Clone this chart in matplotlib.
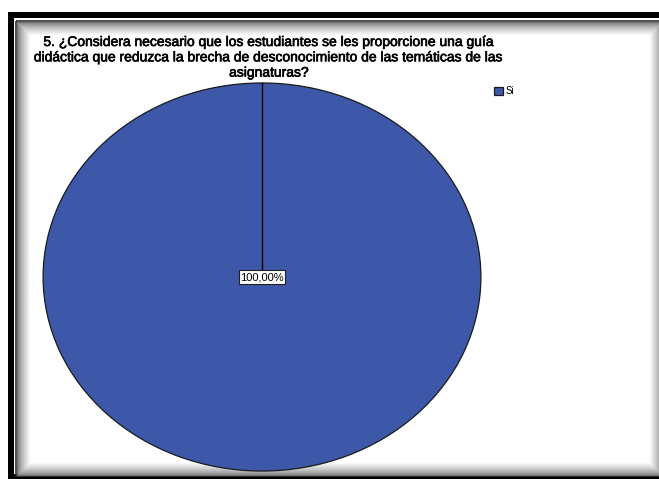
import matplotlib
matplotlib.use('Agg')
import matplotlib.pyplot as plt
import matplotlib.patheffects as pe
import numpy as np
from matplotlib.patches import Rectangle

# datos
categorias = ['Si']
porcentajes = [100.0]
etiquetas = ['100,00%']
titulo = ('5. ¿Considera necesario que los estudiantes se les proporcione una guía\n'
          'didáctica que reduzca la brecha de desconocimiento de las temáticas de las\n'
          'asignaturas?')
color_si = '#3D58A9'
angulo_inicio = 90

W, H = 659, 479
fig = plt.figure(figsize=(W / 100, H / 100), dpi=100)
fig.patch.set_facecolor('white')

# marco con sombra (coordenadas en pixeles)
bg = fig.add_axes([0, 0, 1, 1])
bg.set_xlim(0, W)
bg.set_ylim(H, 0)
bg.axis('off')
bg.add_patch(Rectangle((8, 12), W + 20, 467, facecolor='black', edgecolor='none'))
bg.add_patch(Rectangle((14, 18), W + 20, 456, facecolor='white', edgecolor='none'))
bg.add_patch(Rectangle((16, 20.5), W + 20, 455.5, facecolor='none', edgecolor='#303030', lw=1.2))
# sombra interior en degradado
for i in range(14):
    g = 0.45 + 0.55 * (i / 13) ** 0.7
    x0, y0 = 17 + i, 22 + i
    x1, y1 = W + 3 - i, 475 - i
    bg.add_patch(Rectangle((x0, y0), x1 - x0, y1 - y0, facecolor='none', edgecolor=(g, g, g), lw=0.8))
bg.add_patch(Rectangle((31, 36), (W + 3 - 14) - 31, (475 - 14) - 36, facecolor='white', edgecolor='none'))

t = fig.text(269 / W, 1 - 35 / H, titulo, ha='center', va='top', fontsize=10,
             family='Liberation Sans', linespacing=1.12, color='black')
t.set_path_effects([pe.Stroke(linewidth=0.45, foreground='black'), pe.Normal()])

# pastel (elipse)
ax = fig.add_axes([42 / W, (H - 472) / H, 440 / W, 390 / H])
wedges, _ = ax.pie(porcentajes, colors=[color_si], startangle=angulo_inicio, counterclock=False,
                   radius=1, wedgeprops=dict(edgecolor='#1a1a1a', linewidth=0.9))
# borde del sector (linea del centro al inicio)
a = np.deg2rad(angulo_inicio)
ax.plot([0, np.cos(a)], [0, np.sin(a)], color='black', lw=1.0)
ax.set_aspect('auto')
ax.set_xlim(-1.005, 1.005)
ax.set_ylim(-1.005, 1.005)
ax.text(0, 0, etiquetas[0], ha='center', va='center', fontsize=8, family='Liberation Sans',
        zorder=5,
        bbox=dict(boxstyle='square,pad=0.15', facecolor='white', edgecolor='#202020', linewidth=0.8))

# leyenda
leg = fig.legend(wedges, categorias, loc='upper left', bbox_to_anchor=(494 / W, 1 - 86 / H),
                 frameon=False, handlelength=0.9, handleheight=0.9,
                 handletextpad=0.25, borderaxespad=0, borderpad=0,
                 prop={'family': 'Liberation Sans', 'size': 7})

fig.savefig('out.png', dpi=100)
